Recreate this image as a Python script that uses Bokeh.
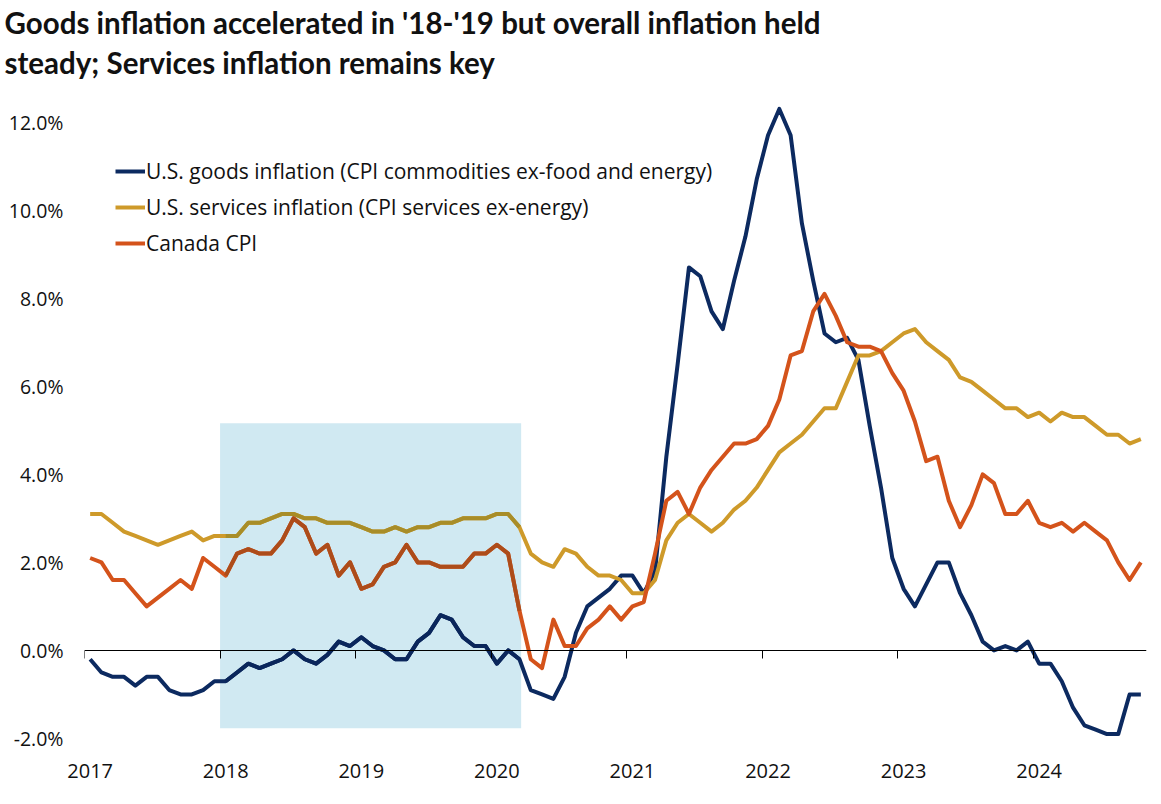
from bokeh.plotting import figure
from bokeh.models import (LinearAxis, FixedTicker, PrintfTickFormatter, BoxAnnotation,
                          Title, Legend, LegendItem, ColumnDataSource, Range1d)
from bokeh.embed import file_html
from bokeh.resources import INLINE

# ---------------- data (monthly, Jan 2017 .. Oct 2024, y/y %) ----------------
start_year = 2017
goods = [
    -0.2, -0.5, -0.6, -0.6, -0.8, -0.6, -0.6, -0.9, -1.0, -1.0, -0.9, -0.7,
    -0.7, -0.5, -0.3, -0.4, -0.3, -0.2, 0.0, -0.2, -0.3, -0.1, 0.2, 0.1,
    0.3, 0.1, 0.0, -0.2, -0.2, 0.2, 0.4, 0.8, 0.7, 0.3, 0.1, 0.1,
    -0.3, 0.0, -0.2, -0.9, -1.0, -1.1, -0.6, 0.4, 1.0, 1.2, 1.4, 1.7,
    1.7, 1.3, 1.8, 4.4, 6.5, 8.7, 8.5, 7.7, 7.3, 8.4, 9.4, 10.7,
    11.7, 12.3, 11.7, 9.7, 8.4, 7.2, 7.0, 7.1, 6.6, 5.1, 3.7, 2.1,
    1.4, 1.0, 1.5, 2.0, 2.0, 1.3, 0.8, 0.2, 0.0, 0.1, 0.0, 0.2,
    -0.3, -0.3, -0.7, -1.3, -1.7, -1.8, -1.9, -1.9, -1.0, -1.0,
]
services = [
    3.1, 3.1, 2.9, 2.7, 2.6, 2.5, 2.4, 2.5, 2.6, 2.7, 2.5, 2.6,
    2.6, 2.6, 2.9, 2.9, 3.0, 3.1, 3.1, 3.0, 3.0, 2.9, 2.9, 2.9,
    2.8, 2.7, 2.7, 2.8, 2.7, 2.8, 2.8, 2.9, 2.9, 3.0, 3.0, 3.0,
    3.1, 3.1, 2.8, 2.2, 2.0, 1.9, 2.3, 2.2, 1.9, 1.7, 1.7, 1.6,
    1.3, 1.3, 1.6, 2.5, 2.9, 3.1, 2.9, 2.7, 2.9, 3.2, 3.4, 3.7,
    4.1, 4.5, 4.7, 4.9, 5.2, 5.5, 5.5, 6.1, 6.7, 6.7, 6.8, 7.0,
    7.2, 7.3, 7.0, 6.8, 6.6, 6.2, 6.1, 5.9, 5.7, 5.5, 5.5, 5.3,
    5.4, 5.2, 5.4, 5.3, 5.3, 5.1, 4.9, 4.9, 4.7, 4.8,
]
canada = [
    2.1, 2.0, 1.6, 1.6, 1.3, 1.0, 1.2, 1.4, 1.6, 1.4, 2.1, 1.9,
    1.7, 2.2, 2.3, 2.2, 2.2, 2.5, 3.0, 2.8, 2.2, 2.4, 1.7, 2.0,
    1.4, 1.5, 1.9, 2.0, 2.4, 2.0, 2.0, 1.9, 1.9, 1.9, 2.2, 2.2,
    2.4, 2.2, 0.9, -0.2, -0.4, 0.7, 0.1, 0.1, 0.5, 0.7, 1.0, 0.7,
    1.0, 1.1, 2.2, 3.4, 3.6, 3.1, 3.7, 4.1, 4.4, 4.7, 4.7, 4.8,
    5.1, 5.7, 6.7, 6.8, 7.7, 8.1, 7.6, 7.0, 6.9, 6.9, 6.8, 6.3,
    5.9, 5.2, 4.3, 4.4, 3.4, 2.8, 3.3, 4.0, 3.8, 3.1, 3.1, 3.4,
    2.9, 2.8, 2.9, 2.7, 2.9, 2.7, 2.5, 2.0, 1.6, 2.0,
]
series_keys = ["goods", "services", "canada"]
series_names = [
    "U.S. goods inflation (CPI commodities ex-food and energy)",
    "U.S. services inflation (CPI services ex-energy)",
    "Canada CPI",
]
series_colors = ["#0C2A60", "#CE9A2A", "#D4531B"]
year_labels = [2017, 2018, 2019, 2020, 2021, 2022, 2023, 2024]
y_ticks = [-2, 0, 2, 4, 6, 8, 10, 12]
# highlighted period (Jan 2018 .. Mar 2020) and its vertical extent (%)
highlight_months = (12, 38)          # month indices inside the shaded band
highlight_y = (-1.77, 5.16)
highlight_rgb = (208, 233, 242)      # shading colour (acts like a multiply tint)

title_line1 = "Goods inflation accelerated in '18-'19 but overall inflation held"
title_line2 = "steady; Services inflation remains key"

# ---------------- build ----------------
n = len(goods)
half = 1.0 / 24
x = [start_year + i / 12 for i in range(n)]
data = dict(x=x, goods=goods, services=services, canada=canada)
src = ColumnDataSource(data)
a, b = highlight_months
src_hl = ColumnDataSource({k: v[a:b + 1] for k, v in data.items()})


def tint(hex_col):
    h = hex_col.lstrip("#")
    rgb = [int(h[i:i + 2], 16) for i in (0, 2, 4)]
    return "#" + "".join("%02X" % round(c * t / 255) for c, t in zip(rgb, highlight_rgb))


FONT = "Open Sans"
TXT = "#111111"

p = figure(width=1161, height=804, output_backend="svg", toolbar_location=None,
           title=None,
           x_range=Range1d(start_year - half, x[-1] + half),
           y_range=Range1d(-2.0, 12.9),
           min_border_left=84, min_border_right=15, min_border_bottom=66,
           min_border_top=82)
p.outline_line_color = None
p.grid.visible = False
p.background_fill_color = "white"
p.border_fill_color = "white"

# titles (first added sits closest to the plot)
for txt, so in ((title_line2, 6), (title_line1, 0)):
    p.add_layout(Title(text=txt, align="left", offset=-80,
                       text_font="Lato", text_font_style="bold",
                       text_font_size="29.5px", text_color="#111111",
                       standoff=so), "above")

# shaded band under the lines
p.add_layout(BoxAnnotation(left=x[a] - half, right=x[b] + 0.15 / 12,
                           bottom=highlight_y[0], top=highlight_y[1],
                           fill_color="#%02X%02X%02X" % highlight_rgb, fill_alpha=1.0,
                           line_alpha=0, level="underlay"))

# lines
renderers = []
for key, col in zip(series_keys, series_colors):
    r = p.line("x", key, source=src, line_color=col, line_width=4,
               line_join="round")
    renderers.append(r)
# tinted segments inside the shaded band
for key, col in zip(series_keys, series_colors):
    p.line("x", key, source=src_hl, line_color=tint(col), line_width=4,
           line_join="round")

# y axis
yax = p.yaxis[0]
yax.ticker = FixedTicker(ticks=y_ticks)
yax.formatter = PrintfTickFormatter(format="%.1f%%")
yax.axis_line_color = None
yax.major_tick_line_color = None
yax.minor_tick_line_color = None
yax.major_tick_out = 0
yax.major_tick_in = 0
yax.major_label_standoff = 21
yax.major_label_text_font = FONT
yax.major_label_text_font_size = "19.5px"
yax.major_label_text_color = TXT

# bottom axis: labels only
xax = p.xaxis[0]
xax.ticker = FixedTicker(ticks=year_labels)
xax.axis_line_color = None
xax.major_tick_line_color = None
xax.minor_tick_line_color = None
xax.major_label_standoff = 19
xax.major_label_text_font = FONT
xax.major_label_text_font_size = "20px"
xax.major_label_text_color = TXT

# zero axis with year-boundary ticks
zax = LinearAxis(fixed_location=0,
                 ticker=FixedTicker(ticks=[yr - half for yr in year_labels]))
zax.axis_line_color = "black"
zax.axis_line_width = 1
zax.major_tick_out = 8
zax.major_tick_in = 0
zax.major_tick_line_color = "black"
zax.minor_tick_line_color = None
zax.major_label_text_font_size = "0px"
zax.major_label_text_alpha = 0
p.add_layout(zax, "below")

# legend
legend = Legend(items=[LegendItem(label=nm, renderers=[r])
                       for nm, r in zip(series_names, renderers)],
                location=(31, 481), orientation="vertical",
                glyph_width=30, glyph_height=20, label_height=20,
                label_standoff=1, spacing=8, padding=0, margin=0,
                border_line_color=None, background_fill_alpha=0,
                label_text_font=FONT, label_text_font_size="21px",
                label_text_color=TXT)
p.add_layout(legend)

open("out.html", "w").write(file_html(p, INLINE))
